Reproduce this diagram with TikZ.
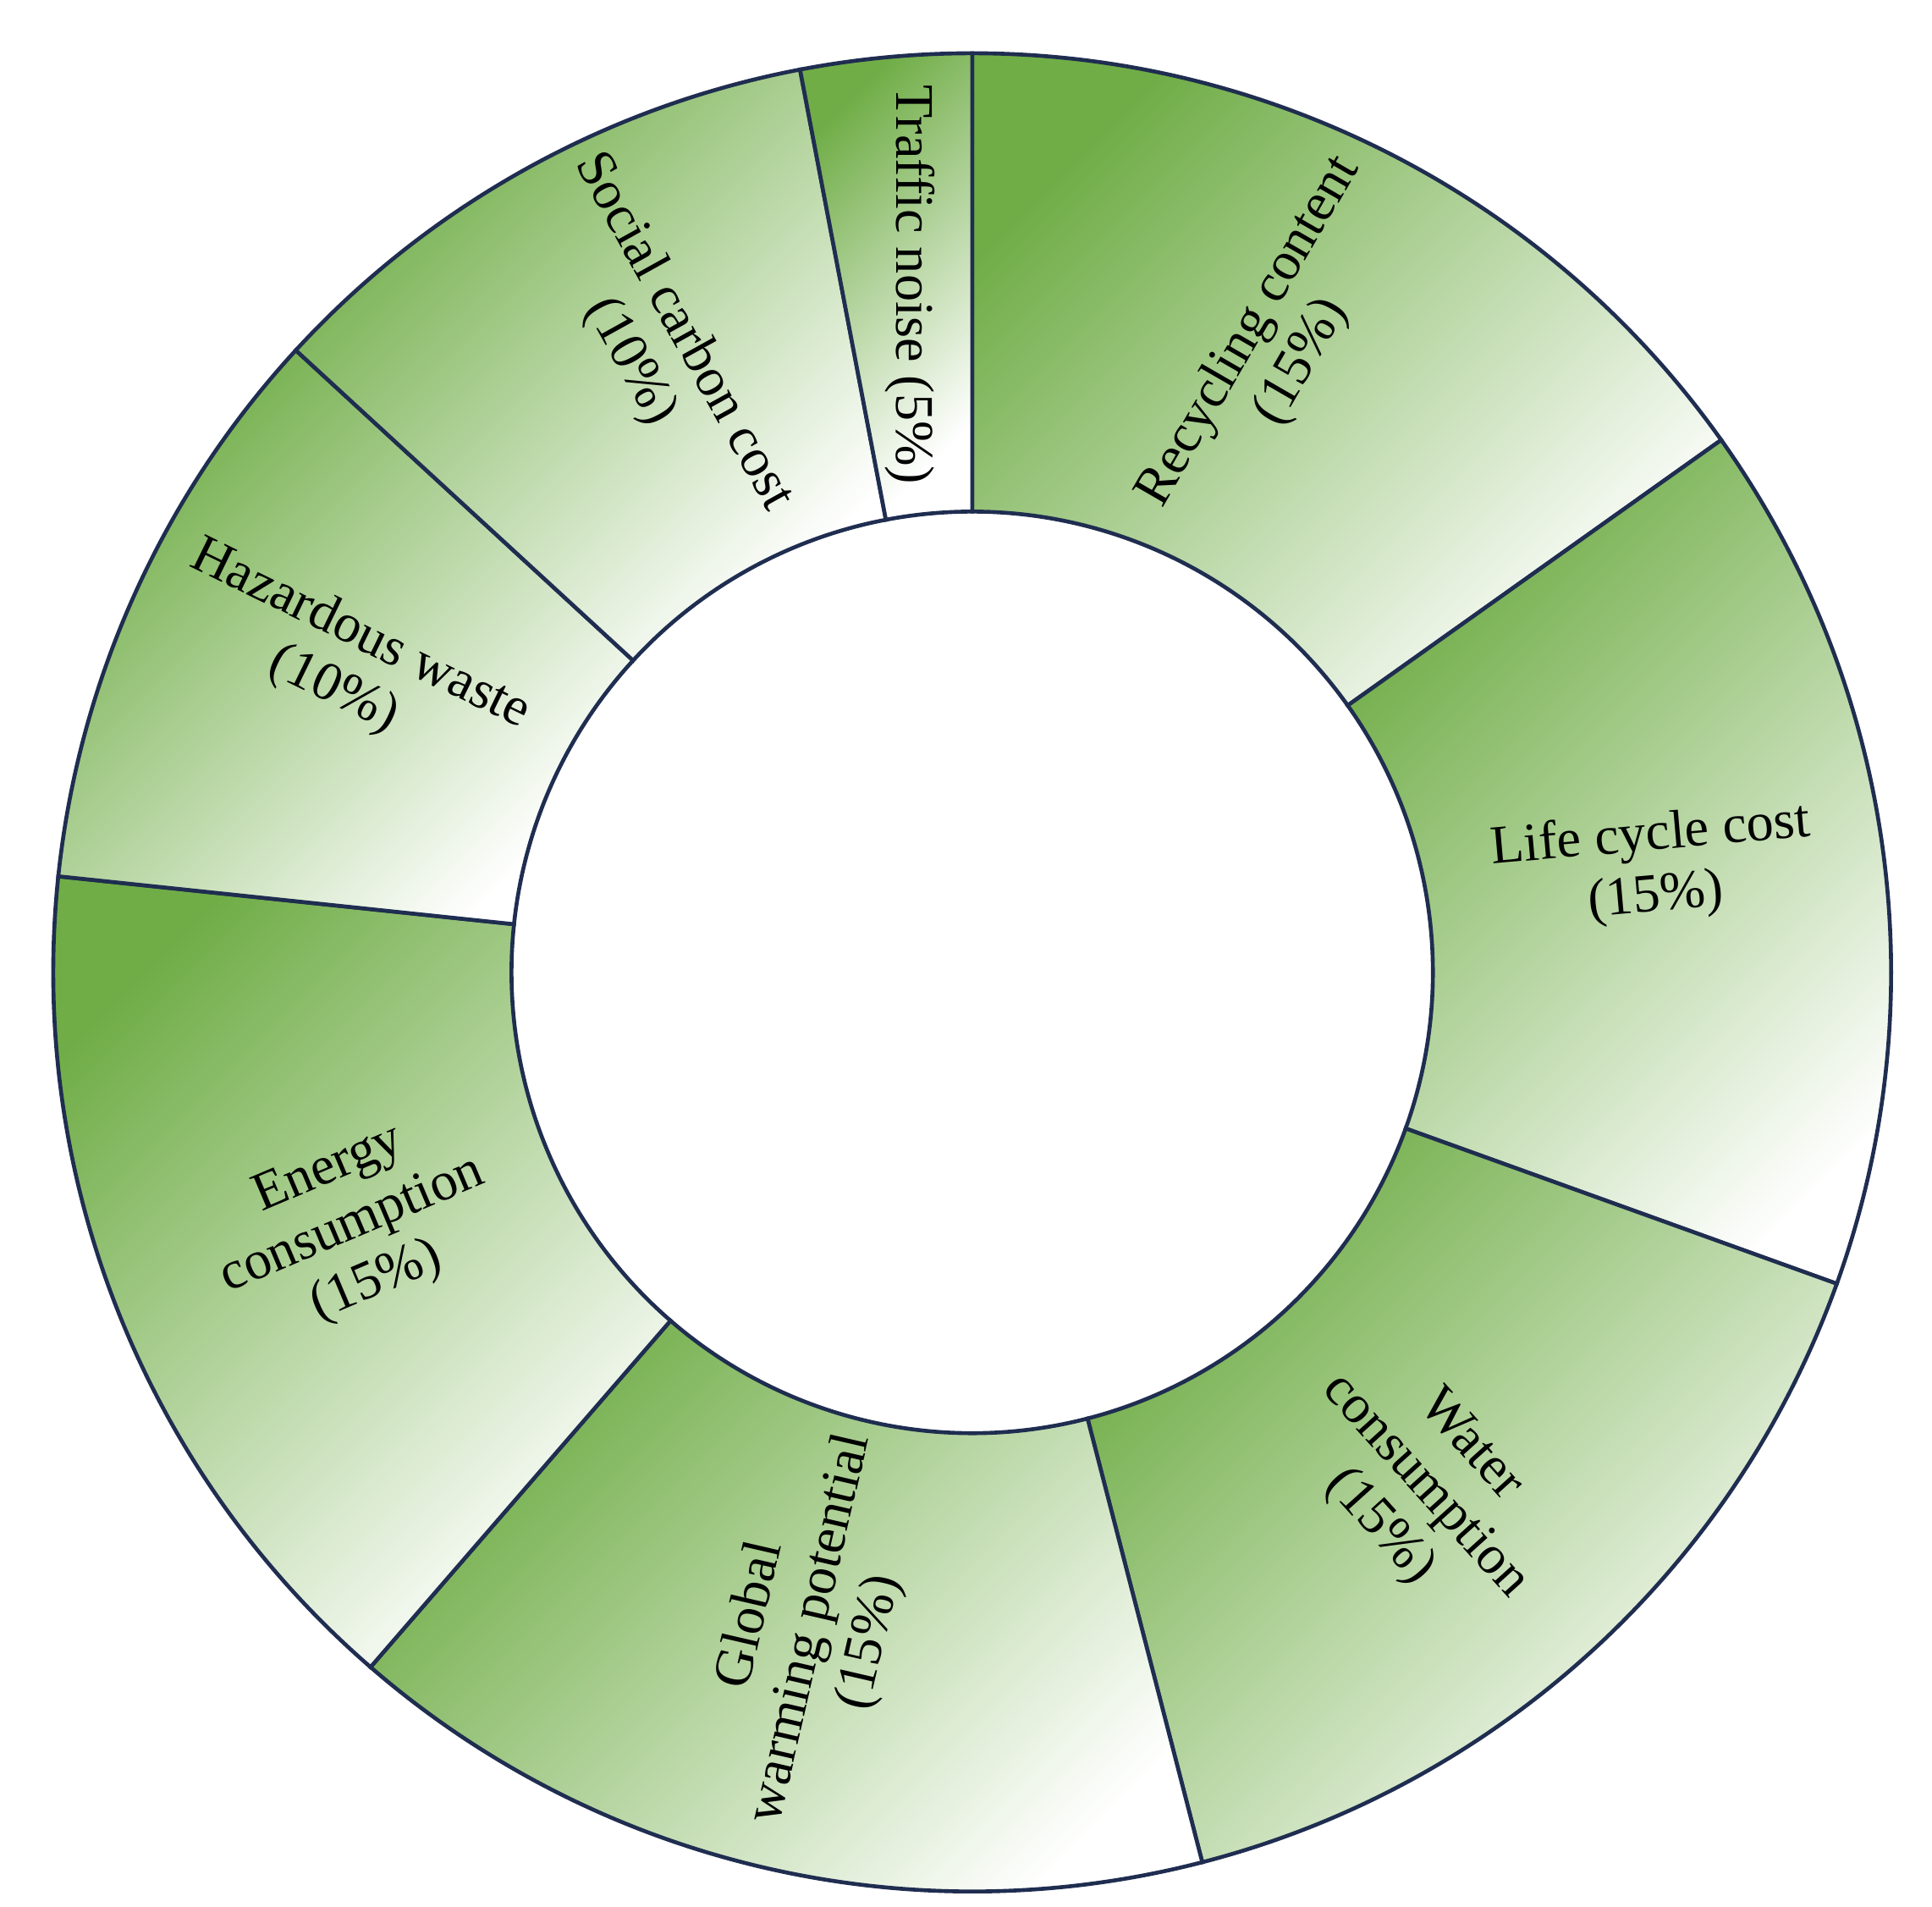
\documentclass[tikz,border=0pt]{standalone}
\usepackage{fontspec}
\setmainfont{Liberation Serif}
\begin{document}
\begin{tikzpicture}
\definecolor{ggreen}{RGB}{112,173,71}
\definecolor{navy}{RGB}{31,45,80}
\tikzset{seg/.style={draw=navy,line width=0.9pt,shading=axis,top color=ggreen,middle color=white,bottom color=white,shading angle=45},
lab/.style={align=center,font=\fontsize{12.5}{14}\selectfont}}
\useasboundingbox (-7.85,-7.54) rectangle (7.75,7.85);
\def\R{7.42}\def\r{3.72}
\foreach \a/\b in {35.4/90,-19.8/35.4,-75.5/-19.8,-130.9/-75.5,-186/-130.9,137.4/174,100.8/137.4,90/100.8}{
  \shade[seg] (\a:\R) arc[start angle=\a,end angle=\b,radius=\R] -- (\b:\r) arc[start angle=\b,end angle=\a,radius=\r] -- cycle;
}
\node[lab,rotate=-90] (tn) at (-0.5,5.55) {Traffic noise (5\%)};
\node[lab,rotate=60] (rc) at (2.45,5.05) {Recycling content\\(15\%)};
\node[lab,rotate=5] (lc) at (5.5,0.85) {Life cycle cost\\(15\%)};
\node[lab,rotate=-48] (wc) at (3.65,-4.15) {Water\\consumption\\(15\%)};
\node[lab,rotate=77] (gw) at (-1.3,-5.3) {Global\\warming potential\\(15\%)};
\node[lab,rotate=23] (ec) at (-5.0,-2.05) {Energy\\consumption\\(15\%)};
\node[lab,rotate=-26] (hw) at (-5.05,2.5) {Hazardous waste\\(10\%)};
\node[lab,rotate=-61] (sc) at (-2.55,5.05) {Social carbon cost\\(10\%)};
\end{tikzpicture}
\end{document}
